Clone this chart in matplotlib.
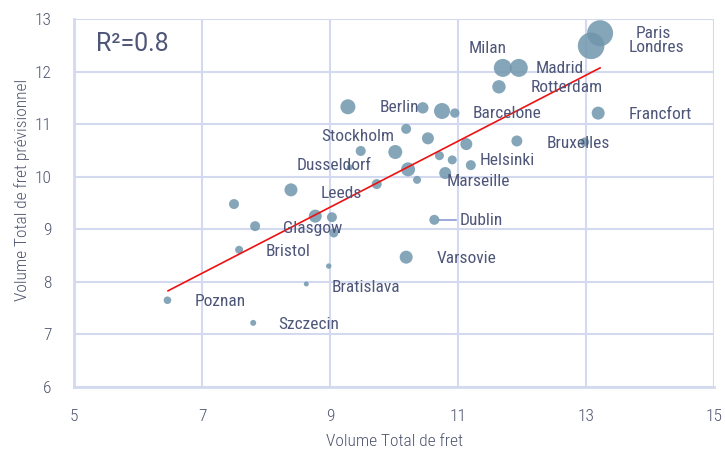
import matplotlib
matplotlib.use("Agg")
import matplotlib.pyplot as plt
from matplotlib import font_manager
import numpy as np

_avail = {f.name for f in font_manager.fontManager.ttflist}
_main = next((f for f in ["Roboto Condensed", "Liberation Sans Narrow", "Open Sans Condensed",
                          "Roboto", "Lato"] if f in _avail), "DejaVu Sans")
_wide = "Roboto" if "Roboto" in _avail else "DejaVu Sans"
plt.rcParams['font.family'] = [_main, 'DejaVu Sans']

# ---------------- data ----------------
x_vals = [13.22, 13.08, 11.70, 11.95, 11.64, 13.19, 9.28, 10.45, 10.75, 10.95,
          10.19, 10.53, 11.13, 11.92, 12.98, 9.48, 10.02, 10.71, 10.91, 11.20,
          9.31, 10.22, 10.80, 10.36, 9.73, 8.39, 7.50, 8.77, 9.03, 9.06,
          7.83, 7.58, 10.63, 10.19, 8.98, 8.63, 6.46, 7.80]
y_vals = [12.73, 12.49, 12.07, 12.07, 11.71, 11.21, 11.33, 11.31, 11.25, 11.21,
          10.91, 10.73, 10.62, 10.68, 10.66, 10.49, 10.47, 10.40, 10.32, 10.22,
          10.18, 10.14, 10.07, 9.94, 9.86, 9.75, 9.48, 9.25, 9.23, 8.93,
          9.06, 8.61, 9.18, 8.47, 8.30, 7.96, 7.65, 7.22]
weights = [13.0, 13.3, 9.0, 9.0, 6.7, 6.5, 7.5, 5.7, 8.0, 4.7,
           5.0, 6.0, 6.0, 5.5, 4.5, 5.0, 7.0, 4.5, 4.5, 5.0,
           3.0, 7.0, 6.0, 4.0, 5.0, 6.5, 5.0, 6.5, 5.0, 4.5,
           5.0, 4.0, 5.0, 6.5, 2.7, 2.5, 3.8, 3.0]

city_names = ["Paris", "Londres", "Milan", "Madrid", "Rotterdam", "Barcelone",
              "Francfort", "Bruxelles", "Berlin", "Stockholm", "Helsinki",
              "Dusseldorf", "Marseille", "Leeds", "Dublin", "Glasgow", "Bristol",
              "Varsovie", "Bratislava", "Poznan", "Szczecin"]

trend_x = [6.47, 13.22]
trend_y = [7.83, 12.07]
r2_text = "R²=0.8"

x_ticks = [5, 7, 9, 11, 13, 15]
y_ticks = [6, 7, 8, 9, 10, 11, 12, 13]
x_label = "Volume Total de fret"
y_label = "Volume Total de fret prévisionnel"

# ---------------- layout (label anchors, data coords) ----------------
label_pos = {
    "Paris": (13.78, 12.73), "Londres": (13.66, 12.45), "Milan": (11.17, 12.43),
    "Madrid": (12.22, 12.05), "Rotterdam": (12.13, 11.69), "Barcelone": (11.23, 11.21),
    "Francfort": (13.66, 11.19), "Bruxelles": (12.38, 10.64), "Berlin": (9.77, 11.31),
    "Stockholm": (8.86, 10.77), "Helsinki": (11.34, 10.30), "Dusseldorf": (8.48, 10.22),
    "Marseille": (10.82, 9.90), "Leeds": (8.86, 9.69), "Dublin": (11.02, 9.16),
    "Glasgow": (8.27, 9.02), "Bristol": (8.00, 8.57), "Varsovie": (10.66, 8.45),
    "Bratislava": (9.03, 7.90), "Poznan": (6.88, 7.62), "Szczecin": (8.19, 7.18),
}

grid_col = "#d3daf0"
pt_col = "#7096ad"
txt_col = "#4e5679"
tick_col = "#4f5570"

fig = plt.figure(figsize=(7.25, 4.57), dpi=100)
ax = fig.add_axes([74/725, 1 - 387/457, (714-74)/725, (387-19)/457])

ax.set_xlim(5, 15)
ax.set_ylim(6, 13)
ax.set_xticks(x_ticks)
ax.set_yticks(y_ticks)
ax.grid(True, color=grid_col, linewidth=1.5, zorder=0)
ax.set_axisbelow(True)
for s in ["top", "right"]:
    ax.spines[s].set_visible(False)
for s in ["left", "bottom"]:
    ax.spines[s].set_color(grid_col)
    ax.spines[s].set_linewidth(2)
ax.tick_params(length=0, colors=tick_col, labelsize=12.5)
ax.tick_params(axis="x", pad=16)
ax.tick_params(axis="y", pad=16)
for lab in ax.get_xticklabels() + ax.get_yticklabels():
    lab.set_fontweight("light")

sizes = [(1.44 * w) ** 2 for w in weights]
ax.scatter(x_vals, y_vals, s=sizes, color=pt_col, alpha=0.85, edgecolors="none", zorder=3)

ax.plot(trend_x, trend_y, color="#ee1111", linewidth=1.2, zorder=4)

# Dublin leader line
ax.plot([10.70, 10.97], [9.18, 9.18], color="#8c9bd6", linewidth=1.2, zorder=2)

for name in city_names:
    lx, ly = label_pos[name]
    ax.text(lx, ly, name, fontsize=12.5, color=txt_col, ha="left", va="center", zorder=5)

ax.text(5.35, 12.52, r2_text, fontsize=18, color=txt_col, ha="left", va="center",
        family=[_wide, 'DejaVu Sans'], fontweight="normal")

ax.set_xlabel(x_label, fontsize=12.5, color=tick_col, fontweight="light")
ax.set_ylabel(y_label, fontsize=12.5, color=tick_col, fontweight="light")
ax.xaxis.set_label_coords(0.5, (387 - 441) / 368)
ax.xaxis.label.set_va("center")
ax.yaxis.set_label_coords((22 - 74) / 640, (387 - 190) / 368)
ax.yaxis.label.set_va("center")

fig.savefig("out.png", dpi=100)
